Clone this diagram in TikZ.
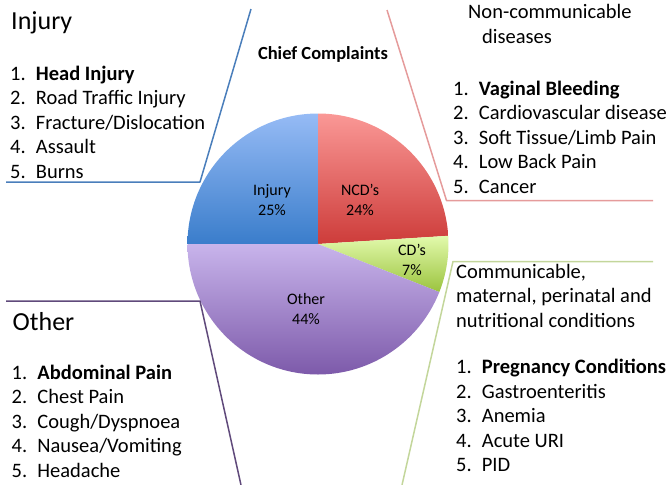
\documentclass[tikz,border=0pt]{standalone}
\usepackage{fontspec}
\setmainfont{Carlito}
\usepackage{tikz}
\usetikzlibrary{positioning}

\definecolor{injlight}{RGB}{150,187,245}
\definecolor{injdark}{RGB}{58,125,203}
\definecolor{ncdlight}{RGB}{250,152,150}
\definecolor{ncddark}{RGB}{205,60,58}
\definecolor{cdlight}{RGB}{226,250,172}
\definecolor{cddark}{RGB}{155,195,62}
\definecolor{othlight}{RGB}{200,180,235}
\definecolor{othdark}{RGB}{125,90,170}
\definecolor{lineblue}{RGB}{74,126,187}
\definecolor{linered}{RGB}{229,155,155}
\definecolor{linegreen}{RGB}{195,214,155}
\definecolor{linepurple}{RGB}{96,74,123}

\newcommand{\itm}[2]{\makebox[25.7pt][l]{#1.}#2}

\begin{document}
\begin{tikzpicture}[x=1pt,y=-1pt,
    sidetxt/.style={inner sep=0pt, anchor=base west, align=left, font=\fontsize{20.5}{24.5}\selectfont},
    bigtitle/.style={inner sep=0pt, anchor=base west, font=\fontsize{26}{30}\selectfont},
    slicetxt/.style={inner sep=0pt, anchor=base, align=center, font=\fontsize{16}{20}\selectfont},
    callout/.style={line width=1.5pt, line join=round}]
    \useasboundingbox (0,0) rectangle (670,485);

    % pie (labels anchored on their last line)
    \coordinate (c) at (318,244);
    \shade[top color=injlight, bottom color=injdark] (c) -- ++(90:130.5pt) arc[start angle=90, end angle=180, radius=130.5pt] -- cycle;
    \shade[top color=ncdlight, bottom color=ncddark] (c) -- ++(3.6:130.5pt) arc[start angle=3.6, end angle=90, radius=130.5pt] -- cycle;
    \shade[top color=cdlight, bottom color=cddark] (c) -- ++(-21.6:130.5pt) arc[start angle=-21.6, end angle=3.6, radius=130.5pt] -- cycle;
    \shade[top color=othlight, bottom color=othdark] (c) -- ++(180:130.5pt) arc[start angle=180, end angle=338.4, radius=130.5pt] -- cycle;

    \node[slicetxt] (injlbl) at (272,215) {Injury\\25\%};
    \node[slicetxt] (ncdlbl) at (360,215) {NCD’s\\24\%};
    \node[slicetxt] (cdlbl) at (412,275) {CD’s\\7\%};
    \node[slicetxt] (othlbl) at (306,324) {Other\\44\%};
    \node[inner sep=0pt, anchor=base, font=\fontsize{18.5}{22}\selectfont\bfseries] (chief) at (323,59) {Chief Complaints};

    % callout lines
    \coordinate (injA) at (6,182);
    \coordinate (injB) at (200,182);
    \coordinate (injC) at (251,9);
    \draw[callout, lineblue] (injA) -- (injB) -- (injC);
    \coordinate (ncdA) at (387,10);
    \coordinate (ncdB) at (446.5,200.5);
    \coordinate (ncdC) at (653,200.5);
    \draw[callout, linered] (ncdA) -- (ncdB) -- (ncdC);
    \coordinate (othA) at (6,301);
    \coordinate (othB) at (200,301);
    \coordinate (othC) at (241,485);
    \draw[callout, linepurple] (othA) -- (othB) -- (othC);
    \coordinate (cdA) at (402,485);
    \coordinate (cdB) at (453,261.5);
    \coordinate (cdC) at (653,261.5);
    \draw[callout, linegreen] (cdA) -- (cdB) -- (cdC);

    % side texts (lists anchored on their last line)
    \node[bigtitle] (injtitle) at (11,29) {Injury};
    \node[sidetxt] (injlist) at (10,178) {\itm{1}{\textbf{Head Injury}}\\\itm{2}{Road Traffic Injury}\\\itm{3}{Fracture/Dislocation}\\\itm{4}{Assault}\\\itm{5}{Burns}};

    \node[sidetxt] (ncdtitle) at (468,18) {Non-communicable};
    \node[sidetxt] (ncdtitle2) at (482,43) {diseases};
    \node[sidetxt] (ncdlist) at (453,193) {\itm{1}{\textbf{Vaginal Bleeding}}\\\itm{2}{Cardiovascular disease}\\\itm{3}{Soft Tissue/Limb Pain}\\\itm{4}{Low Back Pain}\\\itm{5}{Cancer}};

    \node[bigtitle] (othtitle) at (12.5,330) {Other};
    \node[sidetxt] (othlist) at (11.5,477) {\itm{1}{\textbf{Abdominal Pain}}\\\itm{2}{Chest Pain}\\\itm{3}{Cough/Dyspnoea}\\\itm{4}{Nausea/Vomiting}\\\itm{5}{Headache}};

    \node[sidetxt] (cdtitle) at (456,327.3) {Communicable,\\maternal, perinatal and\\nutritional conditions};
    \node[sidetxt] (cdlist) at (456,471.7) {\itm{1}{\textbf{Pregnancy Conditions}}\\\itm{2}{Gastroenteritis}\\\itm{3}{Anemia}\\\itm{4}{Acute URI}\\\itm{5}{PID}};
\end{tikzpicture}
\end{document}
